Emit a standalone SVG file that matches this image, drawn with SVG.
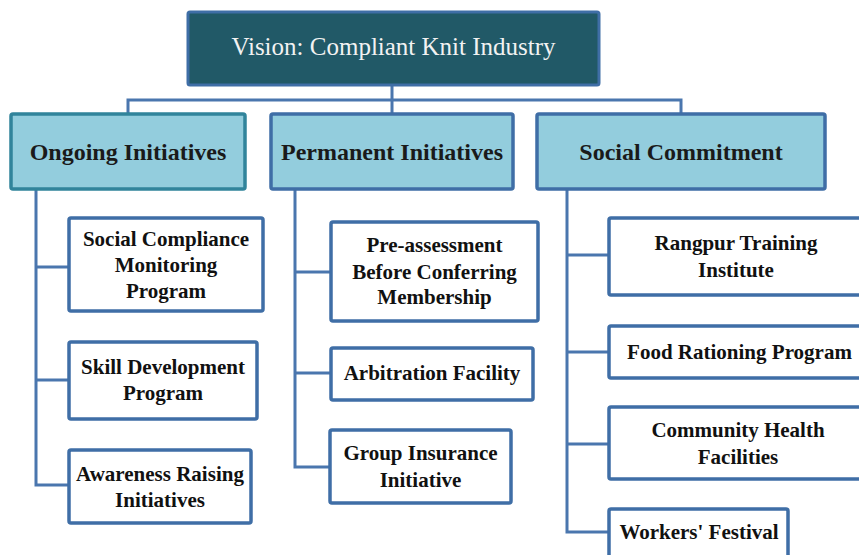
<svg xmlns="http://www.w3.org/2000/svg" width="859" height="555" viewBox="0 0 859 555">
  <style>
    .wire { fill: none; stroke: #4a76ae; stroke-width: 3; }
    .vision { fill: #215967; stroke: #3f6ea6; stroke-width: 3; }
    .head { fill: #93cddd; stroke: #3f6ea6; stroke-width: 3.5; }
    .head.teal { stroke: #31849b; }
    .leaf { fill: #ffffff; stroke: #3f6ea6; stroke-width: 3.5; }
    text { font-family: "Liberation Serif", "DejaVu Serif", serif; text-anchor: middle; fill: #111111; }
    .t-vision { font-size: 25px; fill: #f2f2f2; }
    .t-head { font-size: 24px; font-weight: bold; fill: #1a1a1a; }
    .t-leaf { font-size: 21px; font-weight: bold; }
  </style>
  <rect width="859" height="555" fill="#ffffff"/>

  <g id="connectors">
    <!-- top bus -->
    <path class="wire" d="M392 85 V100 M128 114 V100 H681 V114 M392 100 V114"/>
    <!-- Ongoing branch -->
    <path class="wire" d="M36 189 V485 H69 M36 267 H69 M36 380 H69"/>
    <!-- Permanent branch -->
    <path class="wire" d="M295 189 V467 H330 M295 272 H331 M295 373 H331"/>
    <!-- Social branch -->
    <path class="wire" d="M567 189 V532 H609 M567 255 H609 M567 352 H609 M567 444 H609"/>
  </g>

  <g id="vision">
    <rect class="vision" x="188" y="12" width="411" height="73" rx="2"/>
    <text class="t-vision" x="393.5" y="55">Vision: Compliant Knit Industry</text>
  </g>

  <g id="ongoing">
    <rect class="head teal" x="11" y="114" width="234" height="75" rx="2"/>
    <text class="t-head" x="128" y="160">Ongoing Initiatives</text>
  </g>
  <g id="permanent">
    <rect class="head" x="271" y="114" width="242" height="75" rx="2"/>
    <text class="t-head" x="392" y="160">Permanent Initiatives</text>
  </g>
  <g id="social">
    <rect class="head" x="537" y="114" width="288" height="75" rx="2"/>
    <text class="t-head" x="681" y="160">Social Commitment</text>
  </g>

  <g id="social-compliance">
    <rect class="leaf" x="69" y="218" width="194" height="93" rx="2"/>
    <text class="t-leaf" x="166" y="246">Social Compliance</text>
    <text class="t-leaf" x="166" y="272">Monitoring</text>
    <text class="t-leaf" x="166" y="298">Program</text>
  </g>
  <g id="skill-development">
    <rect class="leaf" x="69" y="342" width="188" height="77" rx="2"/>
    <text class="t-leaf" x="163" y="374">Skill Development</text>
    <text class="t-leaf" x="163" y="400">Program</text>
  </g>
  <g id="awareness">
    <rect class="leaf" x="69" y="450" width="182" height="73" rx="2"/>
    <text class="t-leaf" x="160" y="481">Awareness Raising</text>
    <text class="t-leaf" x="160" y="507">Initiatives</text>
  </g>

  <g id="pre-assessment">
    <rect class="leaf" x="331" y="222" width="207" height="99" rx="2"/>
    <text class="t-leaf" x="434.5" y="252">Pre-assessment</text>
    <text class="t-leaf" x="434.5" y="279">Before Conferring</text>
    <text class="t-leaf" x="434.5" y="304">Membership</text>
  </g>
  <g id="arbitration">
    <rect class="leaf" x="331" y="348" width="202" height="52" rx="2"/>
    <text class="t-leaf" x="432" y="380">Arbitration Facility</text>
  </g>
  <g id="group-insurance">
    <rect class="leaf" x="330" y="430" width="181" height="73" rx="2"/>
    <text class="t-leaf" x="420.5" y="460">Group Insurance</text>
    <text class="t-leaf" x="420.5" y="487">Initiative</text>
  </g>

  <g id="rangpur">
    <rect class="leaf" x="609" y="218" width="256" height="77" rx="2"/>
    <text class="t-leaf" x="736" y="250">Rangpur Training</text>
    <text class="t-leaf" x="736" y="277">Institute</text>
  </g>
  <g id="food-rationing">
    <rect class="leaf" x="609" y="326" width="256" height="52" rx="2"/>
    <text class="t-leaf" x="739.5" y="359">Food Rationing Program</text>
  </g>
  <g id="community-health">
    <rect class="leaf" x="609" y="407" width="256" height="72" rx="2"/>
    <text class="t-leaf" x="738" y="437">Community Health</text>
    <text class="t-leaf" x="738" y="464">Facilities</text>
  </g>
  <g id="workers-festival">
    <rect class="leaf" x="609" y="509" width="179" height="56" rx="2"/>
    <text class="t-leaf" x="699" y="539">Workers' Festival</text>
  </g>
</svg>
